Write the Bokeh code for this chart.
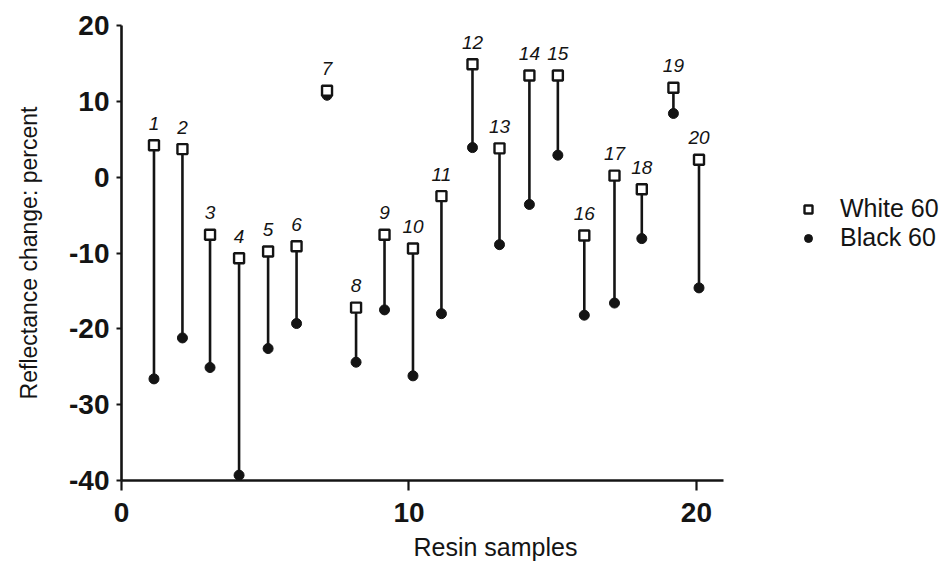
from bokeh.plotting import figure
from bokeh.models import (Range1d, FixedTicker, Legend, LegendItem, Title,
                          ColumnDataSource, PrintfTickFormatter)
from bokeh.core.properties import value
from bokeh.embed import file_html
from bokeh.resources import INLINE

# Reflectance change for each resin sample, white-60 and black-60 backgrounds
samples = list(range(1, 21))
sample_x = [1.13, 2.12, 3.08, 4.09, 5.10, 6.09, 7.15, 8.16, 9.15, 10.14,
            11.13, 12.21, 13.15, 14.19, 15.18, 16.10, 17.15, 18.10, 19.20, 20.09]
white_60 = [4.2, 3.7, -7.6, -10.7, -9.8, -9.1, 11.4, -17.2, -7.6, -9.4,
            -2.5, 14.9, 3.8, 13.4, 13.4, -7.7, 0.2, -1.6, 11.8, 2.3]
black_60 = [-26.6, -21.2, -25.1, -39.3, -22.6, -19.3, 10.8, -24.4, -17.5, -26.2,
            -18.0, 3.9, -8.9, -3.6, 2.9, -18.2, -16.6, -8.1, 8.4, -14.6]
y_ticks = [-40, -30, -20, -10, 0, 10, 20]
x_ticks = [0, 10, 20]

INK = "#141414"
FONT = "Liberation Sans"

src = ColumnDataSource(dict(
    x=sample_x, white=white_60, black=black_60,
    label=[str(s) for s in samples],
))

p = figure(width=946, height=568,
           x_range=Range1d(0, 28.70), y_range=Range1d(-40, 20),
           output_backend="svg", toolbar_location=None,
           min_border_left=121, min_border_right=0,
           min_border_top=25, min_border_bottom=88,
           outline_line_color=None)
p.grid.visible = False

# stems joining the two readings of each sample
p.segment(x0="x", y0="white", x1="x", y1="black", source=src,
          line_color=INK, line_width=2.6)
r_black = p.scatter(x="x", y="black", source=src, marker="circle", size=10,
                    fill_color=INK, line_color=INK, line_width=1)
r_white = p.scatter(x="x", y="white", source=src, marker="square", size=10,
                    fill_color="white", line_color=INK, line_width=2.4)

# sample numbers written above each white reading
p.text(x="x", y="white", text="label", source=src, y_offset=-22,
       text_align="center", text_baseline="middle",
       text_font=value(FONT), text_font_style="italic",
       text_font_size="19px", text_color=INK)

# axes
for ax in (p.xaxis[0], p.yaxis[0]):
    ax.axis_line_color = INK
    ax.axis_line_width = 2.6
    ax.major_tick_line_color = INK
    ax.major_tick_line_width = 2.2
    ax.minor_tick_line_color = None
    ax.major_tick_in = 0
    ax.major_label_text_font = FONT
    ax.major_label_text_font_style = "bold"
    ax.major_label_text_font_size = "28px"
    ax.major_label_text_color = INK
    ax.formatter = PrintfTickFormatter(format="%d")

p.yaxis.ticker = FixedTicker(ticks=y_ticks)
p.yaxis.major_tick_out = 5
p.yaxis.major_label_standoff = 7
p.yaxis.axis_label = "Reflectance change: percent"
p.yaxis.axis_label_text_font = FONT
p.yaxis.axis_label_text_font_style = "normal"
p.yaxis.axis_label_text_font_size = "23px"
p.yaxis.axis_label_text_color = INK
p.yaxis.axis_label_standoff = 24

p.xaxis.ticker = FixedTicker(ticks=x_ticks)
p.xaxis.bounds = (0, 20.94)
p.xaxis.major_tick_out = 10
p.xaxis.major_label_standoff = 12

p.add_layout(Title(text="Resin samples", align="left", offset=292,
                   standoff=12, text_font=FONT, text_font_size="25px",
                   text_font_style="normal", text_color=INK), "below")

legend = Legend(items=[LegendItem(label="White 60", renderers=[r_white]),
                       LegendItem(label="Black 60", renderers=[r_black])],
                location=(677, 228), orientation="vertical",
                border_line_color=None, background_fill_alpha=0,
                label_text_font=FONT, label_text_font_size="25px",
                label_text_color=INK, glyph_width=20, glyph_height=20,
                label_standoff=22, spacing=0, padding=0, margin=0)
p.add_layout(legend)

open("out.html", "w").write(file_html(p, INLINE))
